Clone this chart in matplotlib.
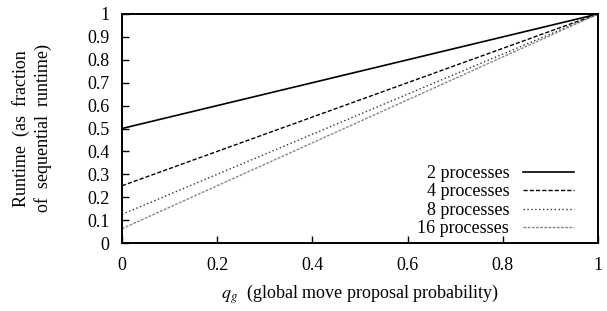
import matplotlib
matplotlib.use("Agg")
import matplotlib.pyplot as plt

plt.rcParams["font.family"] = ["Liberation Serif", "DejaVu Serif"]
plt.rcParams["mathtext.fontset"] = "stix"

# runtime (fraction of sequential) at q_g = 0 and q_g = 1
q_g = [0.0, 1.0]
labels = ["2 processes", "4 processes", "8 processes", "16 processes"]
runtime_2 = [0.5, 1.0]
runtime_4 = [0.25, 1.0]
runtime_8 = [0.125, 1.0]
runtime_16 = [0.0625, 1.0]

x_ticks = [0, 0.2, 0.4, 0.6, 0.8, 1]
x_tick_labels = ["0", "0.2", "0.4", "0.6", "0.8", "1"]
y_ticks = [0, 0.1, 0.2, 0.3, 0.4, 0.5, 0.6, 0.7, 0.8, 0.9, 1]
y_tick_labels = ["0", "0.1", "0.2", "0.3", "0.4", "0.5", "0.6", "0.7", "0.8", "0.9", "1"]

FS = 13

fig = plt.figure(figsize=(6.07, 3.11), dpi=100)
ax = fig.add_axes([122 / 607, 1 - 243 / 311, (598 - 122) / 607, (243 - 14) / 311])

ax.plot(q_g, runtime_2, color="black", lw=1.2, ls="-", label=labels[0])
ax.plot(q_g, runtime_4, color="black", lw=1.0, ls=(0, (3, 1.5)), label=labels[1])
ax.plot(q_g, runtime_8, color="#333333", lw=1.0, ls=(0, (1, 1.8)), label=labels[2])
ax.plot(q_g, runtime_16, color="#888888", lw=1.0, ls=(0, (2, 1)), label=labels[3])

ax.set_xlim(0, 1)
ax.set_ylim(0, 1)
ax.set_xticks(x_ticks)
ax.set_xticklabels(x_tick_labels)
ax.set_yticks(y_ticks)
ax.set_yticklabels(y_tick_labels)
ax.tick_params(direction="in", length=5, width=1, labelsize=FS)
ax.tick_params(axis="x", pad=10)
ax.tick_params(axis="y", pad=9)
for s in ax.spines.values():
    s.set_linewidth(1.4)

ax.set_xlabel(r"$q_g$  (global move proposal probability)", fontsize=FS, labelpad=6)
ax.set_ylabel("Runtime  (as  fraction\nof  sequential  runtime)", fontsize=FS, labelpad=25,
              linespacing=1.35)

ax.legend(loc="lower right", markerfirst=False, frameon=False, fontsize=FS,
          handlelength=2.85, handletextpad=0.75, labelspacing=0.08,
          borderaxespad=0.0, borderpad=0.0, bbox_to_anchor=(0.95, 0.025))

fig.savefig("out.png", dpi=100)
